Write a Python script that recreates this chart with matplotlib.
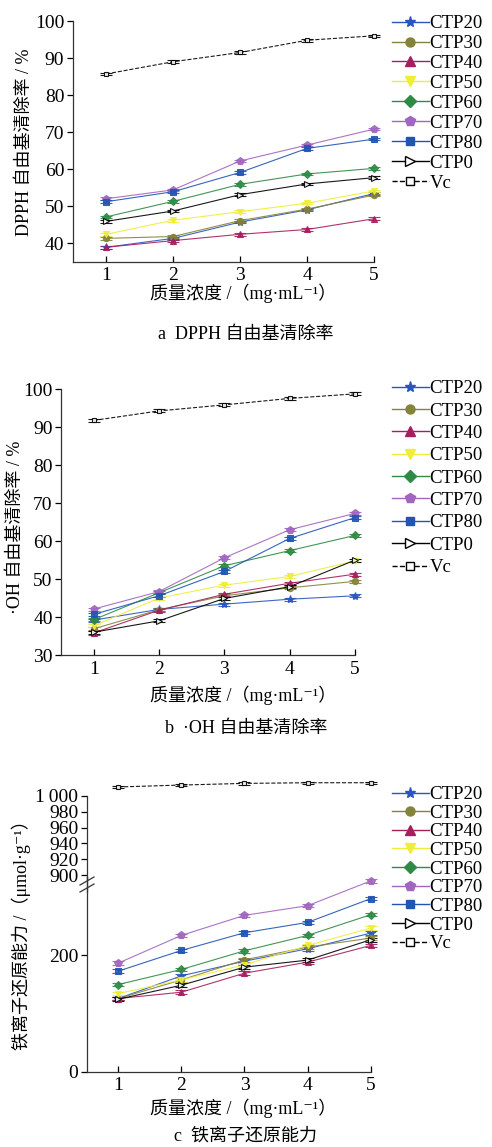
import numpy as np
import matplotlib.pyplot as plt
from matplotlib.lines import Line2D

plt.rcParams['font.family'] = ['Liberation Serif', 'Noto Sans CJK SC', 'DejaVu Sans']

conc = [1, 2, 3, 4, 5]
names = ["CTP20", "CTP30", "CTP40", "CTP50", "CTP60", "CTP70", "CTP80", "CTP0", "Vc"]

# DPPH scavenging rate (%)
dpph = {
    "CTP20": [38.9, 41.3, 45.7, 49.0, 53.4],
    "CTP30": [41.3, 41.8, 46.1, 49.2, 53.0],
    "CTP40": [38.9, 40.7, 42.4, 43.7, 46.6],
    "CTP50": [42.4, 46.2, 48.5, 50.8, 54.1],
    "CTP60": [47.1, 51.3, 55.9, 58.7, 60.2],
    "CTP70": [52.0, 54.4, 62.2, 66.5, 70.8],
    "CTP80": [51.2, 53.9, 59.1, 65.6, 68.1],
    "CTP0": [45.9, 48.7, 53.1, 56.0, 57.7],
    "Vc": [85.7, 89.0, 91.5, 94.8, 96.0],
}

# OH scavenging rate (%)
oh = {
    "CTP20": [39.2, 42.0, 43.4, 44.7, 45.6],
    "CTP30": [36.9, 41.9, 45.6, 47.7, 49.4],
    "CTP40": [35.8, 41.8, 46.0, 48.9, 51.3],
    "CTP50": [37.7, 45.0, 48.4, 50.7, 54.8],
    "CTP60": [39.3, 46.4, 53.5, 57.5, 61.5],
    "CTP70": [42.1, 46.7, 55.6, 63.0, 67.3],
    "CTP80": [40.7, 45.6, 52.0, 60.7, 66.2],
    "CTP0": [36.0, 39.0, 44.9, 48.0, 55.0],
    "Vc": [91.8, 94.3, 95.9, 97.6, 98.8],
}

# ferric reducing power (umol/g)
frap = {
    "CTP20": [125.9, 164.9, 190.2, 211.5, 238.5],
    "CTP30": [125.9, 158.0, 192.5, 214.4, 229.9],
    "CTP40": [125.9, 136.8, 169.5, 188.5, 217.2],
    "CTP50": [134.5, 158.0, 183.9, 217.2, 247.1],
    "CTP60": [150.0, 175.9, 208.0, 234.5, 270.1],
    "CTP70": [186.8, 234.5, 269.0, 285.6, 328.2],
    "CTP80": [173.0, 208.6, 239.1, 256.9, 297.7],
    "CTP0": [124.7, 148.8, 179.9, 192.0, 227.0],
    "Vc": [1011.0, 1013.4, 1015.5, 1016.3, 1016.3],
}

styles = {
    "CTP20": dict(color='#2a55c0', marker='*', ms=6, mfc='#2a55c0', ls='-'),
    "CTP30": dict(color='#85833a', marker='o', ms=4.5, mfc='#85833a', ls='-'),
    "CTP40": dict(color='#a61e5e', marker='^', ms=5, mfc='#a61e5e', ls='-'),
    "CTP50": dict(color='#eeee3a', marker='v', ms=5, mfc='#eeee3a', ls='-'),
    "CTP60": dict(color='#2f8a45', marker='D', ms=4, mfc='#2f8a45', ls='-'),
    "CTP70": dict(color='#a066c0', marker='p', ms=5.5, mfc='#a066c0', ls='-'),
    "CTP80": dict(color='#2055b5', marker='s', ms=4, mfc='#2055b5', ls='-'),
    "CTP0": dict(color='black', marker='>', ms=4.5, mfc='white', ls='-'),
    "Vc": dict(color='black', marker='s', ms=3.5, mfc='white', ls='--'),
}

W, H = 492, 1147
fig = plt.figure(figsize=(W / 100, H / 100), dpi=100)


def box(left, right, top, bottom):
    return [left / W, 1 - bottom / H, (right - left) / W, (bottom - top) / H]


def draw(ax, data, err, keys):
    for k in keys:
        st = styles[k]
        ax.errorbar(conc, data[k], yerr=err, color=st['color'], ls=st['ls'], lw=0.8,
                    marker=st['marker'], ms=st['ms'], mfc=st['mfc'], mec=st['color'],
                    mew=0.8, capsize=4, elinewidth=0.8, capthick=1.0, clip_on=False,
                    alpha=0.9, zorder=3)


def style_axes(ax):
    for s in ['top', 'right']:
        ax.spines[s].set_visible(False)
    for s in ['left', 'bottom']:
        ax.spines[s].set_linewidth(0.9)
        ax.spines[s].set_color('#333333')
    ax.tick_params(axis='y', direction='out', length=4, width=0.9, labelsize=14, pad=2)
    ax.tick_params(axis='x', direction='in', length=4, width=0.9, labelsize=14, pad=4)
    ax.set_xlim(0.5, 5)
    ax.set_xticks(conc)


def legend(y_top, spacing):
    handles = []
    for k in names:
        st = styles[k]
        handles.append(Line2D([], [], color=st['color'], ls=st['ls'], lw=1,
                              marker=st['marker'], ms=st['ms'] + 2, mfc=st['mfc'],
                              mec=st['color']))
    fig.legend(handles, names, loc='upper left', bbox_to_anchor=(392 / W, 1 - y_top / H),
               frameon=False, fontsize=13.5, handlelength=1.95, handletextpad=0.05,
               labelspacing=spacing, borderpad=0, borderaxespad=0)


def ftext(x, y, s, **kw):
    fig.text(x / W, 1 - y / H, s, ha='center', va='center', fontsize=13, **kw)


xlab = "质量浓度 /（mg·mL⁻¹）"

# panel a
ax1 = fig.add_axes(box(72.7, 374, 21, 261.7))
draw(ax1, dpph, 0.35, names)
style_axes(ax1)
ax1.set_ylim(35, 100)
ax1.set_yticks([40, 50, 60, 70, 80, 90, 100])
legend(15, 0.15)
ftext(24, 142, "DPPH 自由基清除率 / %", rotation=90)
ftext(243, 293, xlab)
ftext(246, 334, "a  DPPH 自由基清除率")

# panel b
ax2 = fig.add_axes(box(61, 355, 389.3, 655))
draw(ax2, oh, 0.4, names)
style_axes(ax2)
ax2.set_ylim(30, 100)
ax2.set_yticks([30, 40, 50, 60, 70, 80, 90, 100])
legend(380, 0.28)
ftext(15, 527, "·OH 自由基清除率 / %", rotation=90)
ftext(243, 695, xlab)
ftext(246, 728, "b  ·OH 自由基清除率")

# panel c, broken y axis
ax3 = fig.add_axes(box(86.7, 370.7, 877, 1071.7))
draw(ax3, frap, 3, names[:-1])
style_axes(ax3)
ax3.set_ylim(0, 335)
ax3.set_yticks([0, 200])

ax4 = fig.add_axes(box(86.7, 370.7, 779.8, 879.3))
ax4.patch.set_visible(False)
draw(ax4, frap, 1.5, ["Vc"])
style_axes(ax4)
ax4.spines['bottom'].set_visible(False)
ax4.tick_params(axis='x', bottom=False, labelbottom=False)
ax4.set_ylim(895, 1020)
ax4.set_yticks([900, 920, 940, 960, 980, 1000])
ax4.set_yticklabels(['900', '920', '940', '960', '980', '1\u2009000'])
ax4.spines['left'].set_bounds(895, 1000)

# break marks
for dy in (0, 7):
    fig.add_artist(Line2D([80 / W, 94 / W],
                          [1 - (885 + dy) / H, 1 - (877 + dy) / H],
                          color='#333333', lw=0.9))
fig.add_artist(Line2D([86.7 / W, 86.7 / W], [1 - 877 / H, 1 - 892 / H],
                      color='#333333', lw=0.9))

legend(786, 0.08)
ftext(21, 931, "铁离子还原能力 /（μmol·g⁻¹）", rotation=90)
ftext(243, 1108, xlab)
ftext(246, 1136, "c  铁离子还原能力")

fig.savefig("out.png", dpi=100)
